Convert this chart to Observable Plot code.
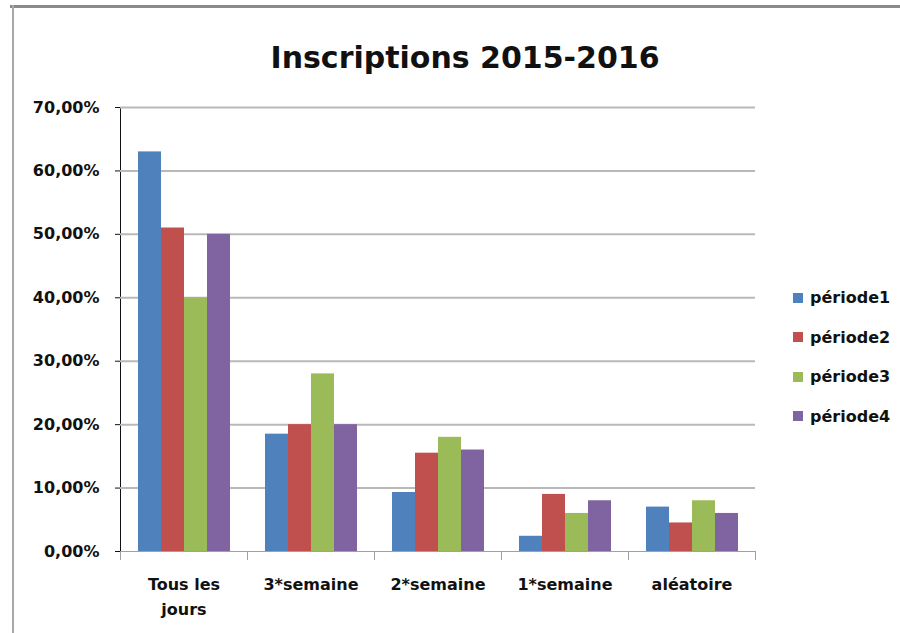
<!DOCTYPE html>
<html>
<head>
<meta charset="utf-8">
<script src="https://cdn.jsdelivr.net/npm/d3@7"></script>
<script src="https://cdn.jsdelivr.net/npm/@observablehq/plot@0.6"></script>
<style>
  html, body { margin: 0; padding: 0; background: #fff; overflow: hidden; }
  #wrap { position: relative; width: 900px; height: 633px; overflow: hidden; background: #fff; font-family: "DejaVu Sans", sans-serif; }
  #topline { position: absolute; left: 10px; top: 5px; width: 890px; height: 3px; background: #8a8a8a; }
  #leftline { position: absolute; left: 12px; top: 5px; width: 2px; height: 628px; background: #a8a8a8; }
  #title { position: absolute; left: 0; top: 43px; width: 930px; text-align: center; font-weight: bold; font-size: 30px; line-height: 30px; color: #111; }
  #chart { position: absolute; left: 0; top: 0; }
  #legend { position: absolute; left: 793px; top: 278px; font-weight: bold; font-size: 16px; color: #111; }
  .row { display: flex; align-items: center; height: 39.5px; }
  .sw { width: 10px; height: 10px; margin-right: 7px; }
</style>
</head>
<body>
<div id="wrap">
  <div id="topline"></div>
  <div id="leftline"></div>
  <div id="chart"></div>
  <div id="title">Inscriptions 2015-2016</div>
  <div id="legend"></div>
</div>
<script>
const categories = ["Tous les jours", "3*semaine", "2*semaine", "1*semaine", "aléatoire"];
const periods = ["période1", "période2", "période3", "période4"];
const periode1 = [0.63, 0.185, 0.093, 0.024, 0.07];
const periode2 = [0.51, 0.20, 0.155, 0.09, 0.045];
const periode3 = [0.40, 0.28, 0.18, 0.06, 0.08];
const periode4 = [0.50, 0.20, 0.16, 0.08, 0.06];
const colors = ["#4F81BD", "#C0504D", "#9BBB59", "#8064A2"];
const yTicks = [0, 0.1, 0.2, 0.3, 0.4, 0.5, 0.6, 0.7];

const series = [periode1, periode2, periode3, periode4];
const data = categories.flatMap((c, i) => periods.map((p, j) => ({category: c, period: p, value: series[j][i]})));

const chart = Plot.plot({
  width: 900,
  height: 633,
  marginTop: 107,
  marginBottom: 82,
  marginLeft: 119,
  marginRight: 145,
  style: {fontFamily: "DejaVu Sans, sans-serif", fontWeight: "bold", fontSize: "16px", color: "#111", background: "transparent", overflow: "visible"},
  facet: {data, x: "category"},
  fx: {domain: categories, padding: 0, label: null, axis: null},
  x: {domain: periods, paddingInner: 0, paddingOuter: 0.76, axis: null},
  y: {domain: [0, 0.7], ticks: yTicks, tickFormat: d => (d * 100).toFixed(2).replace(".", ",") + "%", label: null, tickSize: 5, tickPadding: 16, line: true},
  color: {domain: periods, range: colors},
  marks: [
    Plot.ruleY(yTicks.slice(1), {stroke: "#b9b9b9", strokeWidth: 2, strokeOpacity: 1}),
    Plot.barY(data, {x: "period", y: "value", fill: "period"}),
    Plot.ruleY([0], {stroke: "#a0a0a0", strokeWidth: 1}),
    Plot.frame({anchor: "left", stroke: "#a0a0a0", insetTop: 444, insetBottom: -8}),
    Plot.frame({anchor: "right", stroke: "#a0a0a0", insetTop: 444, insetBottom: -8}),
    Plot.text(data, Plot.selectFirst({
      text: d => d.category.replace("les ", "les\n"),
      frameAnchor: "bottom",
      lineAnchor: "top",
      dy: 21,
      lineHeight: 1.55,
      fill: "#111"
    }))
  ]
});
document.getElementById("chart").appendChild(chart);

const legend = document.getElementById("legend");
periods.forEach((p, j) => {
  const row = document.createElement("div");
  row.className = "row";
  const sw = document.createElement("div");
  sw.className = "sw";
  sw.style.background = colors[j];
  const t = document.createElement("span");
  t.textContent = p;
  row.appendChild(sw);
  row.appendChild(t);
  legend.appendChild(row);
});
</script>
</body>
</html>
